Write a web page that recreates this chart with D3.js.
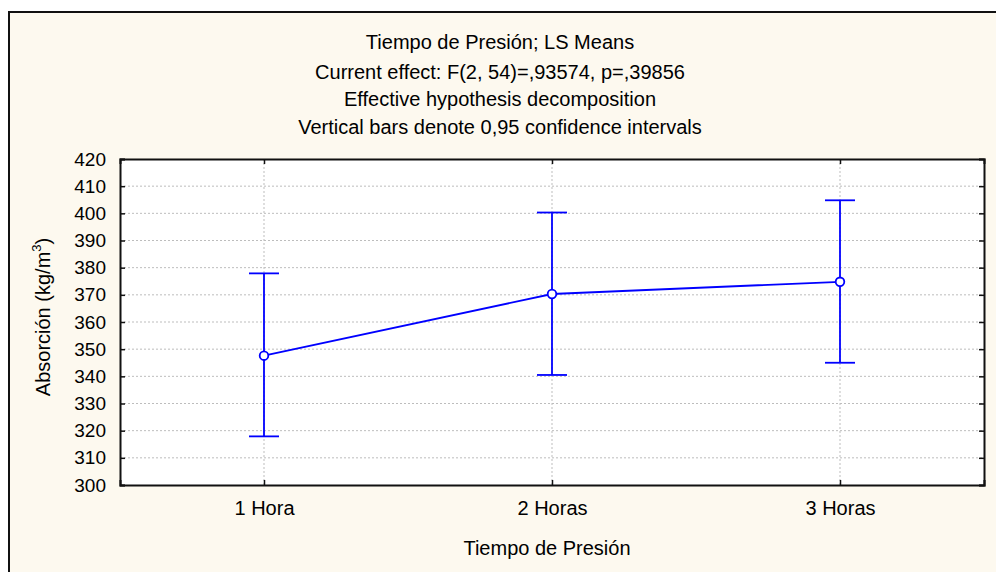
<!DOCTYPE html>
<html>
<head>
<meta charset="utf-8">
<script src="https://cdn.jsdelivr.net/npm/d3@7"></script>
<style>
  body { margin: 0; background: #fff; }
  svg text { font-family: "Liberation Sans", Arial, sans-serif; fill: #000; }
</style>
</head>
<body>
<div id="chart"></div>
<script>
const categories = ["1 Hora", "2 Horas", "3 Horas"];
const means = [347.6, 370.3, 374.8];
const lower = [317.9, 340.5, 345.0];
const upper = [377.9, 400.3, 404.8];
const yTicks = [300, 310, 320, 330, 340, 350, 360, 370, 380, 390, 400, 410, 420];
const titleLines = [
  "Tiempo de Presión; LS Means",
  "Current effect: F(2, 54)=,93574, p=,39856",
  "Effective hypothesis decomposition",
  "Vertical bars denote 0,95 confidence intervals"
];

const width = 996, height = 572;
const margin = {top: 159, right: 12, bottom: 87, left: 120};
const fontSize = "19px";

const svg = d3.select("#chart").append("svg")
  .attr("width", width)
  .attr("height", height);

// outer frame (right and bottom edges run off the page)
svg.append("rect")
  .attr("x", 9).attr("y", 12)
  .attr("width", width).attr("height", height)
  .attr("fill", "#fdf9ef")
  .attr("stroke", "#111")
  .attr("stroke-width", 2);

const x = d3.scalePoint()
  .domain(categories)
  .range([margin.left, width - margin.right])
  .padding(0.5);

const y = d3.scaleLinear()
  .domain([300, 420])
  .range([height - margin.bottom, margin.top]);

const x0 = margin.left, x1 = width - margin.right;
const y0 = height - margin.bottom, y1 = margin.top;

svg.append("rect")
  .attr("x", x0).attr("y", y1)
  .attr("width", x1 - x0).attr("height", y0 - y1)
  .attr("fill", "#fff");

// grid
svg.append("g").selectAll("line")
  .data(yTicks.slice(1, -1))
  .join("line")
  .attr("x1", x0).attr("x2", x1)
  .attr("y1", d => y(d)).attr("y2", d => y(d))
  .attr("stroke", "#bdbdbd")
  .attr("stroke-dasharray", "2,2");

svg.append("g").selectAll("line")
  .data(categories)
  .join("line")
  .attr("x1", d => x(d)).attr("x2", d => x(d))
  .attr("y1", y1).attr("y2", y0)
  .attr("stroke", "#bdbdbd")
  .attr("stroke-dasharray", "2,2");

// axes
const gy = svg.append("g")
  .attr("transform", `translate(${x0},0)`)
  .call(d3.axisLeft(y).tickValues(yTicks).tickSize(-5).tickPadding(14));
gy.selectAll("text").style("font-size", fontSize);

const gyr = svg.append("g")
  .attr("transform", `translate(${x1},0)`)
  .call(d3.axisRight(y).tickValues(yTicks).tickSize(-5).tickFormat(""));

const gx = svg.append("g")
  .attr("transform", `translate(0,${y0})`)
  .call(d3.axisBottom(x).tickSize(-5).tickPadding(16));
gx.selectAll("text").style("font-size", "20px");

const gxt = svg.append("g")
  .attr("transform", `translate(0,${y1})`)
  .call(d3.axisTop(x).tickSize(-5).tickFormat(""));

[gy, gyr, gx, gxt].forEach(g => {
  g.select(".domain").attr("stroke", "#111").attr("stroke-width", 2);
  g.selectAll(".tick line").attr("stroke", "#111").attr("stroke-width", 1.5);
});

// titles
svg.append("g").selectAll("text")
  .data(titleLines)
  .join("text")
  .attr("x", 500)
  .attr("y", (d, i) => [49, 79, 106, 134][i])
  .attr("text-anchor", "middle")
  .style("font-size", "20px")
  .text(d => d);

svg.append("text")
  .attr("x", 547)
  .attr("y", 555)
  .attr("text-anchor", "middle")
  .style("font-size", "20px")
  .text("Tiempo de Presión");

const yl = svg.append("text")
  .attr("transform", `translate(50,${(y0 + y1) / 2 - 5}) rotate(-90)`)
  .attr("text-anchor", "middle")
  .style("font-size", "20px");
yl.append("tspan").text("Absorción (kg/m");
yl.append("tspan").attr("dy", -9).style("font-size", "13px").text("3");
yl.append("tspan").attr("dy", 9).text(")");

// error bars
const blue = "#0000ff";
const bars = svg.append("g");
categories.forEach((c, i) => {
  bars.append("line")
    .attr("x1", x(c)).attr("x2", x(c))
    .attr("y1", y(lower[i])).attr("y2", y(upper[i]))
    .attr("stroke", blue).attr("stroke-width", 1.8);
  [lower[i], upper[i]].forEach(v => {
    bars.append("line")
      .attr("x1", x(c) - 15).attr("x2", x(c) + 15)
      .attr("y1", y(v)).attr("y2", y(v))
      .attr("stroke", blue).attr("stroke-width", 1.8);
  });
});

const line = d3.line()
  .x((d, i) => x(categories[i]))
  .y(d => y(d));

svg.append("path")
  .datum(means)
  .attr("d", line)
  .attr("fill", "none")
  .attr("stroke", blue)
  .attr("stroke-width", 1.8);

svg.append("g").selectAll("circle")
  .data(means)
  .join("circle")
  .attr("cx", (d, i) => x(categories[i]))
  .attr("cy", d => y(d))
  .attr("r", 4.3)
  .attr("fill", "#fff")
  .attr("stroke", blue)
  .attr("stroke-width", 1.8);
</script>
</body>
</html>
